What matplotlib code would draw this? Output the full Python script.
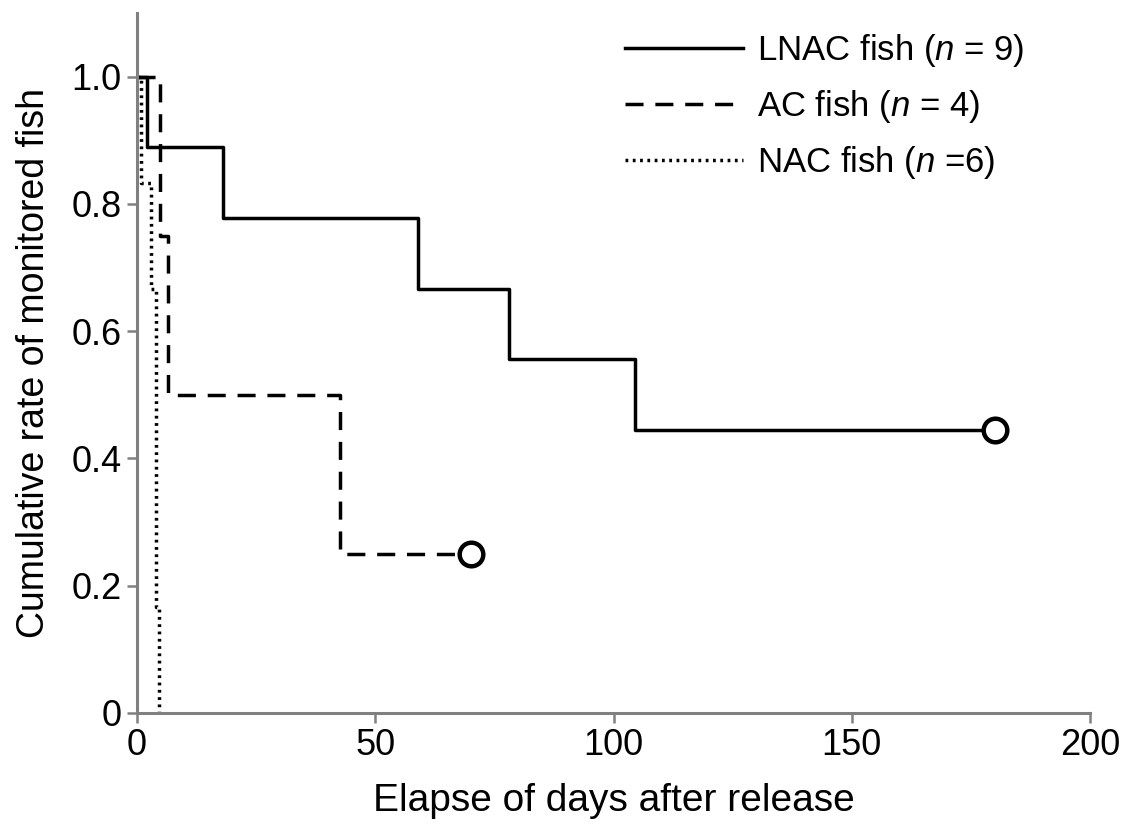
import matplotlib
matplotlib.use("Agg")
import matplotlib.pyplot as plt

# Kaplan-Meier style step data
lnac_days = [0, 2, 18, 59, 78, 104.5, 180]
lnac_rate = [1.0, 0.889, 0.778, 0.667, 0.556, 0.444, 0.444]

ac_days = [0, 4.8, 6.5, 42.5, 70]
ac_rate = [1.0, 0.75, 0.5, 0.25, 0.25]

nac_days = [0, 0.8, 2.9, 4.0, 4.7]
nac_rate = [1.0, 0.833, 0.667, 0.167, 0.0]

labels = ["LNAC fish ($n$ = 9)", "AC fish ($n$ = 4)", "NAC fish ($n$ =6)"]
xticks = [0, 50, 100, 150, 200]
yticks = [0, 0.2, 0.4, 0.6, 0.8, 1.0]
yticklabels = ["0", "0.2", "0.4", "0.6", "0.8", "1.0"]

plt.rcParams['font.family'] = ['Liberation Sans', 'DejaVu Sans']
plt.rcParams['mathtext.fontset'] = 'custom'
plt.rcParams['mathtext.it'] = 'Liberation Sans:italic'
plt.rcParams['mathtext.rm'] = 'Liberation Sans'

fig = plt.figure(figsize=(11.28, 8.25), dpi=100)
ax = fig.add_axes([137 / 1128, 112 / 825, (1090 - 137) / 1128, 700 / 825])

ax.step(lnac_days, lnac_rate, where='post', color='black', lw=2.5, label=labels[0])
ax.step(ac_days, ac_rate, where='post', color='black', lw=2.5,
        dashes=(5.2, 3.4), label=labels[1])
ax.step(nac_days, nac_rate, where='post', color='black', lw=2.5,
        linestyle=(0, (0.8, 1.3)), label=labels[2])

# censored end points
ax.plot(lnac_days[-1], lnac_rate[-1], 'o', ms=17, mfc='white', mec='black', mew=3.2, zorder=5)
ax.plot(ac_days[-1], ac_rate[-1], 'o', ms=17, mfc='white', mec='black', mew=3.2, zorder=5)

ax.set_xlim(0, 200)
ax.set_ylim(0, 1.1)
ax.set_xticks(xticks)
ax.set_yticks(yticks)
ax.set_yticklabels(yticklabels)

for s in ['top', 'right']:
    ax.spines[s].set_visible(False)
for s in ['left', 'bottom']:
    ax.spines[s].set_color('#808080')
    ax.spines[s].set_linewidth(2.2)
ax.tick_params(direction='out', length=7, width=1.8, color='#808080',
               labelsize=26, pad=4)

ax.set_xlabel('Elapse of days after release', fontsize=28, labelpad=14)
ax.set_ylabel('Cumulative rate of monitored fish', fontsize=27, labelpad=14)

ax.legend(loc='upper left', bbox_to_anchor=(625 / 1128, 1 - 32 / 825),
          bbox_transform=fig.transFigure, frameon=False, borderpad=0,
          borderaxespad=0, fontsize=25, handlelength=3.4, handletextpad=0.4,
          labelspacing=0.55)

fig.savefig('out.png', dpi=100)
